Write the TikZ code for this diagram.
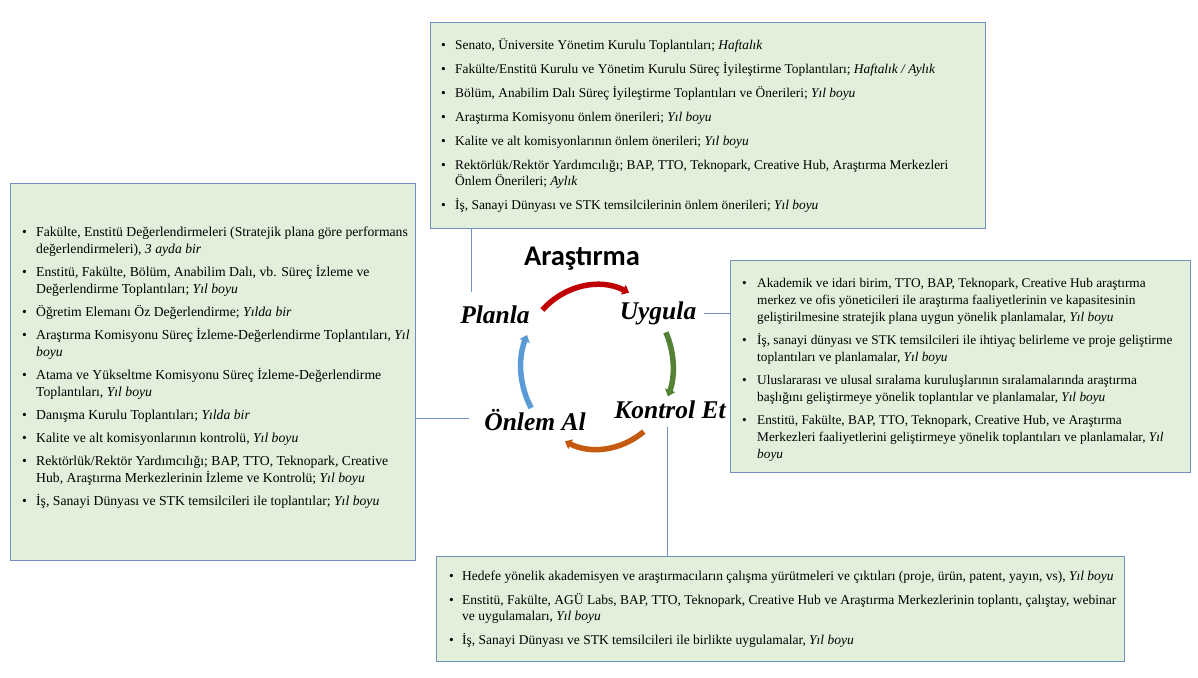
\documentclass[tikz,border=0pt]{standalone}
\usepackage{fontspec}
\setmainfont{Liberation Serif}
\newfontfamily\carlitofont{Carlito}
\usetikzlibrary{arrows.meta}
\definecolor{boxfill}{HTML}{E2EFDA}
\definecolor{boxline}{HTML}{7390C4}
\definecolor{cred}{HTML}{C00000}
\definecolor{cgreen}{HTML}{548235}
\definecolor{corange}{HTML}{C55A11}
\definecolor{cblue}{HTML}{5B9BD5}
\newcommand{\bul}{\textbullet}
\newcommand{\yb}{\textit{Yıl boyu}}
\begin{document}
\begin{tikzpicture}[x=1pt,y=1pt,
  box/.style={draw=boxline, fill=boxfill, line width=1.2pt, rectangle, inner sep=0pt, anchor=north west},
  boxtext/.style={anchor=base west, inner sep=0pt, font=\fontsize{13.6}{17}\selectfont},
  conn/.style={draw=boxline, line width=0.9pt},
  phase/.style={font=\fontsize{25.5}{30}\selectfont\bfseries\itshape, inner sep=1pt},
  cyc/.style={line width=5.5pt, -{Triangle[width=10.5pt,length=6.5pt]}}
]
\useasboundingbox[fill=white] (0,0) rectangle (1198,677);

% boxes
\node[box, minimum width=555pt, minimum height=206pt] (top) at (430,655) {};
\node[box, minimum width=405pt, minimum height=377pt] (left) at (10,494) {};
\node[box, minimum width=460pt, minimum height=212pt] (right) at (730,417) {};
\node[box, minimum width=688pt, minimum height=105pt] (bottom) at (436,121) {};

% top box text
\node[boxtext, font=\fontsize{13.4}{16}\selectfont] (toptext) at (441,627) {\begin{tabular}[t]{@{}p{14pt}@{}l@{}}
\bul & Senato, Üniversite Yönetim Kurulu Toplantıları; \textit{Haftalık}\\[8pt]
\bul & Fakülte/Enstitü Kurulu ve Yönetim Kurulu Süreç İyileştirme Toplantıları; \textit{Haftalık / Aylık}\\[8pt]
\bul & Bölüm, Anabilim Dalı Süreç İyileştirme Toplantıları ve Önerileri; \yb\\[8pt]
\bul & Araştırma Komisyonu önlem önerileri; \yb\\[8pt]
\bul & Kalite ve alt komisyonlarının önlem önerileri; \yb\\[8pt]
\bul & Rektörlük/Rektör Yardımcılığı; BAP, TTO, Teknopark, Creative Hub, Araştırma Merkezleri\\
 & Önlem Önerileri; \textit{Aylık}\\[8pt]
\bul & İş, Sanayi Dünyası ve STK temsilcilerinin önlem önerileri; \yb
\end{tabular}};

% left box text
\node[boxtext, font=\fontsize{13.7}{17}\selectfont] (lefttext) at (22,440) {\begin{tabular}[t]{@{}p{14pt}@{}l@{}}
\bul & Fakülte, Enstitü Değerlendirmeleri (Stratejik plana göre performans\\
 & değerlendirmeleri), \textit{3 ayda bir}\\[6pt]
\bul & Enstitü, Fakülte, Bölüm, Anabilim Dalı, vb. Süreç İzleme ve\\
 & Değerlendirme Toplantıları; \yb\\[6pt]
\bul & Öğretim Elemanı Öz Değerlendirme; \textit{Yılda bir}\\[6pt]
\bul & Araştırma Komisyonu Süreç İzleme-Değerlendirme Toplantıları, \textit{Yıl}\\
 & \textit{boyu}\\[6pt]
\bul & Atama ve Yükseltme Komisyonu Süreç İzleme-Değerlendirme\\
 & Toplantıları, \yb\\[6pt]
\bul & Danışma Kurulu Toplantıları; \textit{Yılda bir}\\[6pt]
\bul & Kalite ve alt komisyonlarının kontrolü, \yb\\[6pt]
\bul & Rektörlük/Rektör Yardımcılığı; BAP, TTO, Teknopark, Creative\\
 & Hub, Araştırma Merkezlerinin İzleme ve Kontrolü; \yb\\[6pt]
\bul & İş, Sanayi Dünyası ve STK temsilcileri ile toplantılar; \yb
\end{tabular}};

% right box text
\node[boxtext, font=\fontsize{13.3}{17}\selectfont] (righttext) at (742,389) {\begin{tabular}[t]{@{}p{15pt}@{}l@{}}
\bul & Akademik ve idari birim, TTO, BAP, Teknopark, Creative Hub araştırma\\
 & merkez ve ofis yöneticileri ile araştırma faaliyetlerinin ve kapasitesinin\\
 & geliştirilmesine stratejik plana uygun yönelik planlamalar, \yb\\[6pt]
\bul & İş, sanayi dünyası ve STK temsilcileri ile ihtiyaç belirleme ve proje geliştirme\\
 & toplantıları ve planlamalar, \yb\\[6pt]
\bul & Uluslararası ve ulusal sıralama kuruluşlarının sıralamalarında araştırma\\
 & başlığını geliştirmeye yönelik toplantılar ve planlamalar, \yb\\[6pt]
\bul & Enstitü, Fakülte, BAP, TTO, Teknopark, Creative Hub, ve Araştırma\\
 & Merkezleri faaliyetlerini geliştirmeye yönelik toplantıları ve planlamalar, \textit{Yıl}\\
 & \textit{boyu}
\end{tabular}};

% bottom box text
\node[boxtext, font=\fontsize{13.5}{16.5}\selectfont] (bottomtext) at (449,96) {\begin{tabular}[t]{@{}p{13pt}@{}l@{}}
\bul & Hedefe yönelik akademisyen ve araştırmacıların çalışma yürütmeleri ve çıktıları (proje, ürün, patent, yayın, vs), \yb\\[7pt]
\bul & Enstitü, Fakülte, AGÜ Labs, BAP, TTO, Teknopark, Creative Hub ve Araştırma Merkezlerinin toplantı, çalıştay, webinar\\
 & ve uygulamaları, \yb\\[7pt]
\bul & İş, Sanayi Dünyası ve STK temsilcileri ile birlikte uygulamalar, \yb
\end{tabular}};

% cycle
\node[font=\fontsize{28.5}{32}\selectfont\carlitofont\bfseries] (title) at (582,418) {Araştırma};
\node[phase] (planla) at (495,362) {Planla};
\node[phase] (uygula) at (658,364) {Uygula};
\node[phase] (kontrol) at (670,267) {Kontrol Et};
\node[phase] (onlem) at (535,257) {Önlem Al};

\coordinate (cc) at (597,310);
\draw[cyc, cred] ([shift={(136:76pt and 82pt)}]cc) arc[start angle=136, end angle=65, x radius=76pt, y radius=82pt];
\draw[cyc, cgreen] ([shift={(25:76pt and 82pt)}]cc) arc[start angle=25, end angle=-21, x radius=76pt, y radius=82pt];
\draw[cyc, corange] ([shift={(-52:76pt and 82pt)}]cc) arc[start angle=-52, end angle=-115, x radius=76pt, y radius=82pt];
\draw[cyc, cblue] ([shift={(210:76pt and 82pt)}]cc) arc[start angle=210, end angle=157, x radius=76pt, y radius=82pt];

% connectors
\coordinate (c1) at (471,385);
\draw[conn] (top.south -| c1) -- (c1);
\coordinate (c2) at (704,364);
\draw[conn] (c2) -- (c2 -| right.west);
\coordinate (c3) at (469,259);
\draw[conn] (left.east |- c3) -- (c3);
\coordinate (c4) at (667,250);
\draw[conn] (c4) -- (c4 |- bottom.north);
\end{tikzpicture}
\end{document}
